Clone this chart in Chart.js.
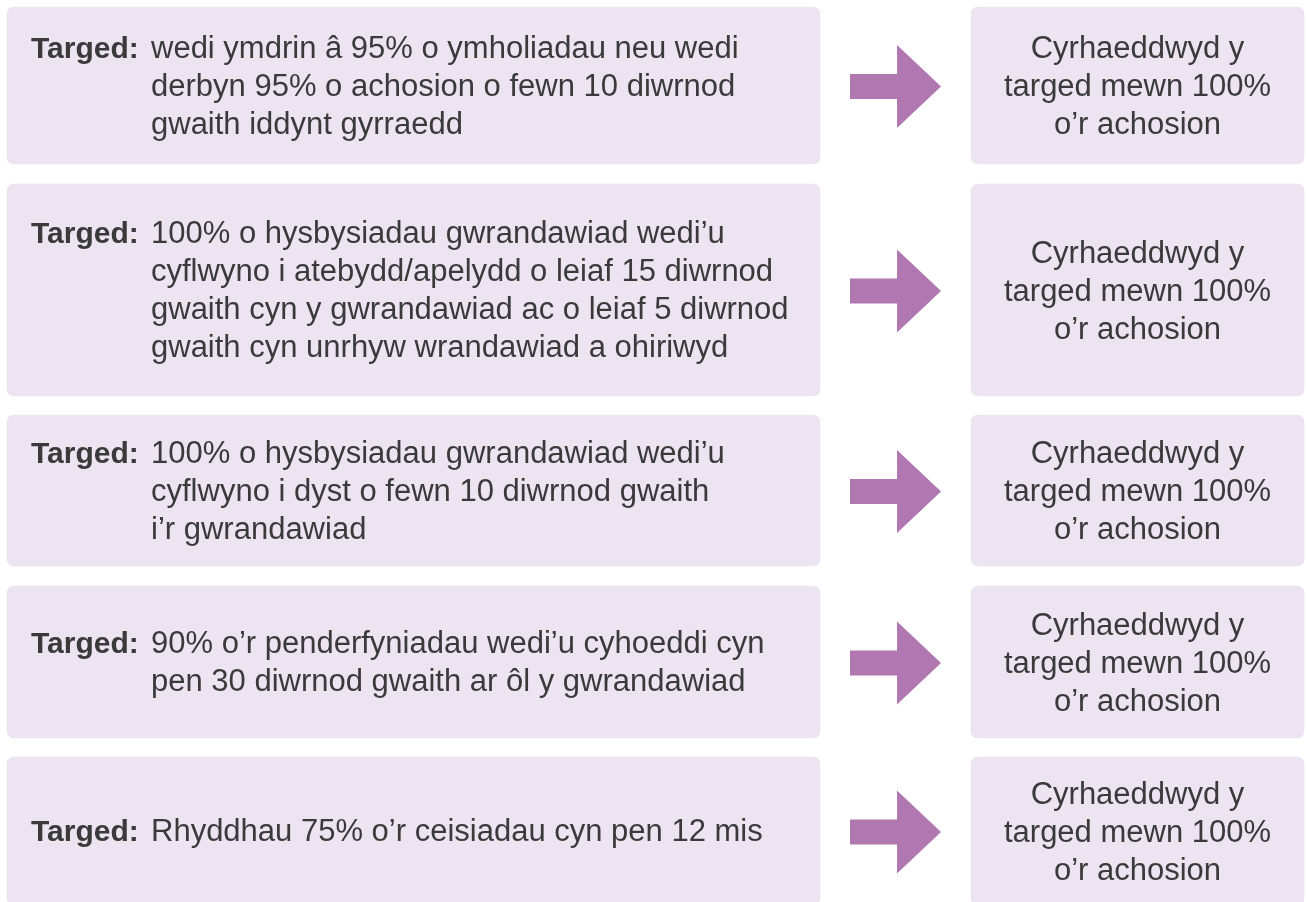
<!DOCTYPE html>
<html>
<head>
<meta charset="utf-8">
<script src="https://cdn.jsdelivr.net/npm/chart.js@4.4.1/dist/chart.umd.min.js"></script>
<style>
  html, body { margin: 0; padding: 0; background: #fff; }
  #wrap { width: 1306px; height: 902px; }
</style>
</head>
<body>
<div id="wrap"><canvas id="targets" width="1306" height="902"></canvas></div>
<script>
// rows of the table: what the target was and how much of it was met
const rowIds = ['ymholiadau', 'hysbysiadau-atebydd', 'hysbysiadau-tyst', 'penderfyniadau', 'ceisiadau'];
const labelWord = 'Targed:';
const targetLines = [
  ['wedi ymdrin â 95% o ymholiadau neu wedi', 'derbyn 95% o achosion o fewn 10 diwrnod', 'gwaith iddynt gyrraedd'],
  ['100% o hysbysiadau gwrandawiad wedi’u', 'cyflwyno i atebydd/apelydd o leiaf 15 diwrnod', 'gwaith cyn y gwrandawiad ac o leiaf 5 diwrnod', 'gwaith cyn unrhyw wrandawiad a ohiriwyd'],
  ['100% o hysbysiadau gwrandawiad wedi’u', 'cyflwyno i dyst o fewn 10 diwrnod gwaith', 'i’r gwrandawiad'],
  ['90% o’r penderfyniadau wedi’u cyhoeddi cyn', 'pen 30 diwrnod gwaith ar ôl y gwrandawiad'],
  ['Rhyddhau 75% o’r ceisiadau cyn pen 12 mis']
];
const achievedPct = [100, 100, 100, 100, 100];

// page layout (pixels, same units as the scales)
const layout = {
  rowTop: [7, 184, 415, 586, 757],
  rowBottom: [164, 396, 566, 738, 905],
  leftBox: [7, 820],
  rightBox: [971, 1304],
  shaft: [850, 897, 25],   // x start, x end, thickness
  headTip: 941,
  headHalf: 41.5
};

const boxColor = '#ece4f1';
const arrowColor = '#b077b0';
const textColor = '#3a3a3a';
const fontFamily = '"Liberation Sans", Arial, Helvetica, sans-serif';

function resultLines(pct) {
  return ['Cyrhaeddwyd y', `targed mewn ${pct}%`, 'o’r achosion'];
}

function rowCenter(i) {
  return (layout.rowTop[i] + layout.rowBottom[i]) / 2;
}

const datasets = rowIds.map((id, i) => ({
  label: id,
  data: [
    { x: layout.leftBox, y: rowCenter(i) },
    { x: layout.rightBox, y: rowCenter(i) }
  ],
  backgroundColor: boxColor,
  borderRadius: 7,
  borderSkipped: false,
  barThickness: layout.rowBottom[i] - layout.rowTop[i],
  grouped: false
}));

const annotate = {
  id: 'annotate',
  afterDatasetsDraw(chart) {
    const { ctx, scales: { x, y } } = chart;
    ctx.save();
    ctx.textBaseline = 'alphabetic';
    const lineH = 38;

    rowIds.forEach((id, i) => {
      const meta = chart.getDatasetMeta(i);
      const left = meta.data[0];
      const right = meta.data[1];
      const cy = y.getPixelForValue(rowCenter(i));

      // arrow
      const x0 = x.getPixelForValue(layout.shaft[0]);
      const x1 = x.getPixelForValue(layout.shaft[1]);
      const xt = x.getPixelForValue(layout.headTip);
      const half = layout.shaft[2] / 2;
      const ay = cy + 1;
      ctx.fillStyle = arrowColor;
      ctx.beginPath();
      ctx.moveTo(x0, ay - half);
      ctx.lineTo(x1, ay - half);
      ctx.lineTo(x1, ay - layout.headHalf);
      ctx.lineTo(xt, ay);
      ctx.lineTo(x1, ay + layout.headHalf);
      ctx.lineTo(x1, ay + half);
      ctx.lineTo(x0, ay + half);
      ctx.closePath();
      ctx.fill();

      ctx.fillStyle = textColor;

      // target text with hanging indent
      const lines = targetLines[i];
      const first = cy + 10 - (lines.length - 1) * lineH / 2;
      ctx.textAlign = 'left';
      ctx.font = `bold 30px ${fontFamily}`;
      ctx.fillText(labelWord, left.base + 24, first);
      ctx.font = `31px ${fontFamily}`;
      lines.forEach((t, k) => ctx.fillText(t, left.base + 144, first + k * lineH));

      // result text
      const res = resultLines(achievedPct[i]);
      const rFirst = cy + 10.5 - (res.length - 1) * lineH / 2;
      ctx.textAlign = 'center';
      const rc = (right.base + right.x) / 2;
      res.forEach((t, k) => ctx.fillText(t, rc, rFirst + k * lineH));
    });
    ctx.restore();
  }
};

new Chart(document.getElementById('targets'), {
  type: 'bar',
  data: { labels: rowIds, datasets: datasets },
  options: {
    indexAxis: 'y',
    responsive: false,
    animation: false,
    events: [],
    layout: { padding: 0 },
    scales: {
      x: { type: 'linear', min: 0, max: 1306, display: false },
      y: { type: 'linear', min: 0, max: 902, reverse: true, offset: false, display: false }
    },
    plugins: {
      legend: { display: false },
      tooltip: { enabled: false }
    }
  },
  plugins: [annotate]
});
</script>
</body>
</html>
